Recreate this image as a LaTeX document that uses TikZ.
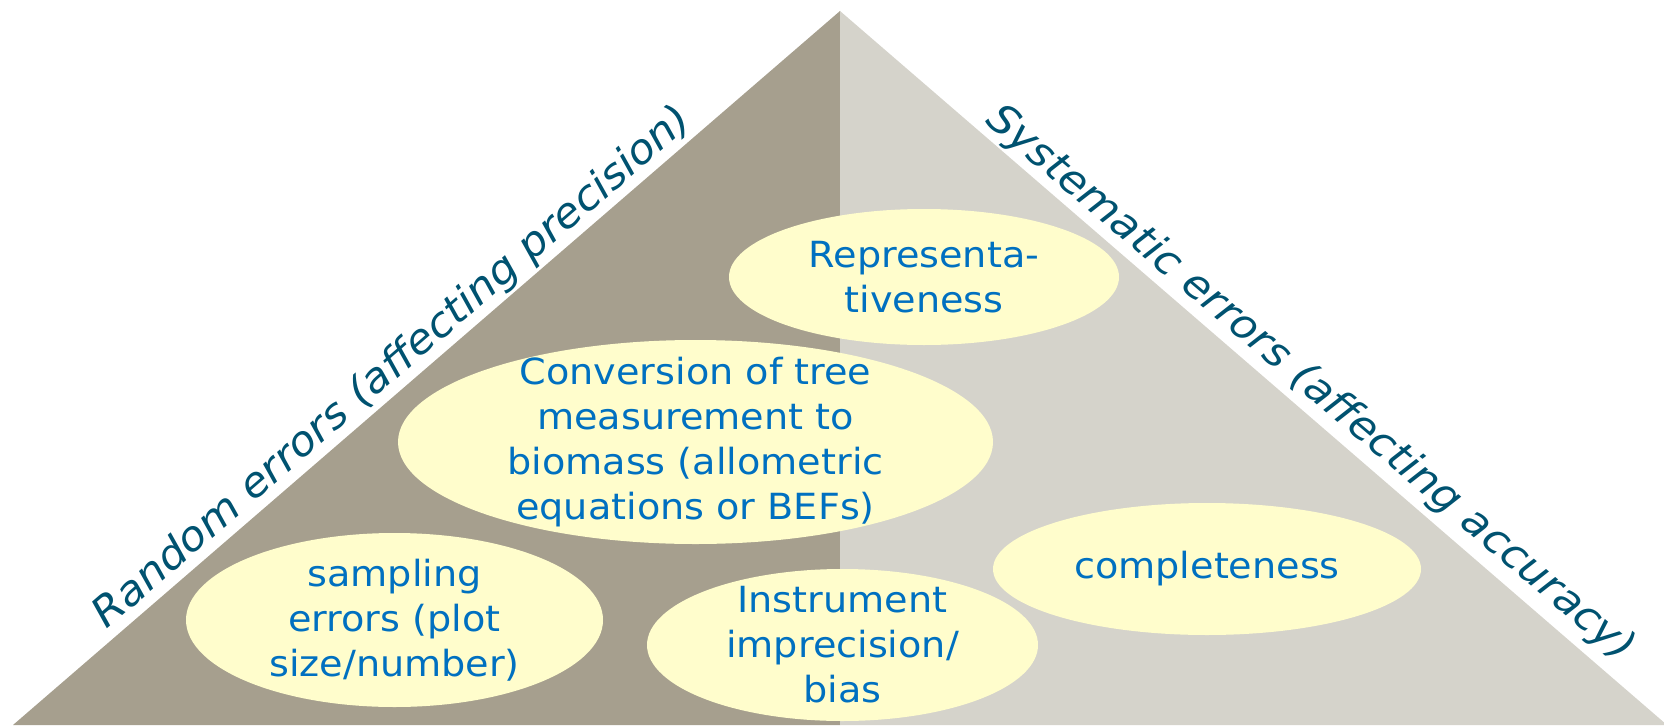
\documentclass[tikz,border=0pt]{standalone}
\usepackage{fontspec}
\setmainfont{DejaVu Sans}[FakeStretch=1.06]
\usetikzlibrary{shapes.geometric}
\definecolor{sidedark}{RGB}{166,159,142}
\definecolor{sidelight}{RGB}{213,211,203}
\definecolor{bubblefill}{RGB}{255,253,204}
\definecolor{bodyblue}{RGB}{0,112,192}
\definecolor{edgeteal}{RGB}{0,82,112}
\tikzset{
  bubble/.style={ellipse, fill=bubblefill, inner sep=0pt},
  bubbletext/.style={align=center, text=bodyblue, inner sep=0pt,
    font=\fontsize{36}{45}\selectfont},
  sidelabel/.style={text=edgeteal, inner sep=0pt, anchor=base west,
    font=\fontsize{41}{48}\selectfont\itshape},
}
\begin{document}
\begin{tikzpicture}[x=1pt, y=-1pt]
  \useasboundingbox (0,0) rectangle (1664,725);
  % pyramid corners and the vertical split
  \coordinate (apex) at (840,11);
  \coordinate (bl) at (13,725);
  \coordinate (bm) at (840,725);
  \coordinate (br) at (1667,725);
  \fill[sidedark] (apex) -- (bl) -- (bm) -- cycle;
  \fill[sidelight] (apex) -- (bm) -- (br) -- cycle;

  % error sources
  \node[bubble, minimum width=390, minimum height=136] (repr) at (924,277) {};
  \node[bubble, minimum width=595, minimum height=204] (conv) at (695.5,442) {};
  \node[bubble, minimum width=417, minimum height=174] (samp) at (394.5,620) {};
  \node[bubble, minimum width=391, minimum height=152] (inst) at (842.5,645) {};
  \node[bubble, minimum width=428, minimum height=132] (comp) at (1207,569) {};

  \node[bubbletext] (reprtext) at (repr.center) {Representa-\\tiveness};
  \node[bubbletext] (convtext) at (conv.center) {Conversion of tree\\measurement to\\biomass (allometric\\equations or BEFs)};
  \node[bubbletext] (samptext) at (samp.center) {sampling\\errors (plot\\size/number)};
  \node[bubbletext] (insttext) at (inst.center) {Instrument\\imprecision/\\bias};
  \node[bubbletext] (comptext) at (comp.center) {completeness};

  % labels along the two slopes
  \node[sidelabel, rotate=40.8] (random) at (106,630) {Random errors (affecting precision)};
  \node[sidelabel, rotate=-40.3] (systematic) at (984,122) {Systematic errors (affecting accuracy)};
\end{tikzpicture}
\end{document}
